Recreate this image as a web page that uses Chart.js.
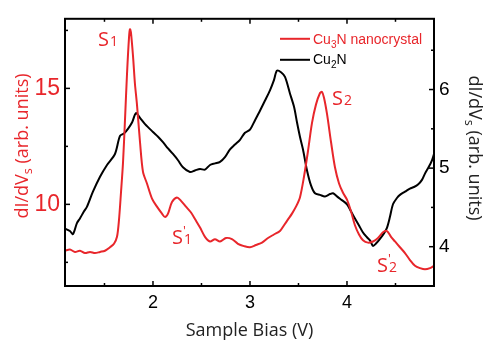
<!DOCTYPE html>
<html lang="en">
<head>
<meta charset="UTF-8">
<title>dI/dVs spectra</title>
<script src="https://cdn.jsdelivr.net/npm/chart.js"></script>
<style>
  body { margin: 0; background: #fff; }
  #wrap { width: 487px; height: 340px; position: relative; }
</style>
</head>
<body>
<div id="wrap"><canvas id="stsChart"></canvas></div>
<script>
// Cu3N nanocrystal (left axis)
const biasRed = [1.093, 1.144, 1.196, 1.247, 1.299, 1.351, 1.402, 1.454, 1.505, 1.557,
  1.598, 1.629, 1.649, 1.670, 1.691, 1.711, 1.732, 1.753, 1.763, 1.773,
  1.794, 1.814, 1.835, 1.866, 1.897, 1.938, 1.990, 2.041, 2.093, 2.124,
  2.155, 2.196, 2.247, 2.289, 2.340, 2.392, 2.443, 2.485, 2.536, 2.588,
  2.639, 2.691, 2.753, 2.814, 2.876, 2.938, 3.000, 3.062, 3.124, 3.186,
  3.247, 3.309, 3.351, 3.392, 3.433, 3.474, 3.515, 3.557, 3.598, 3.639,
  3.680, 3.722, 3.742, 3.763, 3.794, 3.835, 3.876, 3.918, 3.959, 4.000,
  4.041, 4.082, 4.124, 4.165, 4.216, 4.268, 4.320, 4.371, 4.412, 4.454,
  4.495, 4.546, 4.598, 4.649, 4.701, 4.753, 4.804, 4.856, 4.897];
const didvRed = [8.0, 8.05, 7.95, 8.0, 7.9, 7.95, 7.9, 7.95, 8.0, 8.15,
  8.3, 8.6, 9.3, 10.5, 11.8, 13.6, 15.6, 17.2, 17.55, 17.4,
  16.4, 15.2, 14.3, 12.7, 11.4, 10.9, 10.25, 9.9, 9.6, 9.45,
  9.6, 10.1, 10.3, 10.15, 9.9, 9.65, 9.3, 9.0, 8.6, 8.4,
  8.5, 8.4, 8.55, 8.5, 8.3, 8.2, 8.15, 8.25, 8.35, 8.55,
  8.7, 8.85, 9.1, 9.35, 9.6, 9.9, 10.3, 11.2, 12.3, 13.5,
  14.3, 14.8, 14.85, 14.6, 13.9, 12.7, 11.6, 10.9, 10.5, 10.2,
  9.7, 9.1, 8.7, 8.45, 8.35, 8.4, 8.55, 8.8, 8.85, 8.6,
  8.4, 8.15, 7.9, 7.6, 7.35, 7.25, 7.2, 7.25, 7.35];

// Cu2N (right axis)
const biasBlack = [1.093, 1.144, 1.175, 1.216, 1.247, 1.289, 1.320, 1.381, 1.454, 1.526,
  1.608, 1.660, 1.701, 1.742, 1.784, 1.825, 1.866, 1.918, 2.000, 2.052,
  2.103, 2.155, 2.206, 2.258, 2.309, 2.381, 2.433, 2.485, 2.536, 2.588,
  2.639, 2.691, 2.742, 2.794, 2.845, 2.897, 2.948, 3.000, 3.052, 3.103,
  3.155, 3.206, 3.247, 3.278, 3.320, 3.361, 3.412, 3.454, 3.485, 3.515,
  3.546, 3.588, 3.629, 3.670, 3.722, 3.773, 3.825, 3.856, 3.897, 3.928,
  4.000, 4.041, 4.082, 4.124, 4.165, 4.206, 4.237, 4.268, 4.299, 4.340,
  4.381, 4.412, 4.443, 4.474, 4.515, 4.546, 4.598, 4.649, 4.691, 4.732,
  4.773, 4.804, 4.845, 4.876, 4.897];
const didvBlack = [4.23, 4.2, 4.16, 4.3, 4.36, 4.45, 4.51, 4.7, 4.89, 5.04,
  5.18, 5.41, 5.44, 5.5, 5.58, 5.7, 5.64, 5.56, 5.46, 5.4,
  5.33, 5.25, 5.18, 5.1, 5.01, 4.95, 4.97, 4.99, 4.98, 5.04,
  5.06, 5.08, 5.14, 5.24, 5.3, 5.36, 5.45, 5.49, 5.61, 5.73,
  5.86, 5.99, 6.12, 6.24, 6.22, 6.16, 5.95, 5.78, 5.58, 5.4,
  5.24, 4.97, 4.78, 4.68, 4.66, 4.64, 4.67, 4.68, 4.64, 4.61,
  4.54, 4.45, 4.36, 4.27, 4.18, 4.12, 4.08, 4.01, 4.04, 4.1,
  4.17, 4.24, 4.38, 4.54, 4.62, 4.66, 4.7, 4.74, 4.76, 4.79,
  4.85, 4.93, 5.02, 5.1, 5.18];

// axes
const xTicks = [2, 3, 4];
const xMinor = [1.5, 2.5, 3.5, 4.5];
const leftTicks = [10, 15];
const leftMinor = [7.5, 12.5, 17.5];
const rightTicks = [4, 5, 6];
const rightMinor = [3.5, 4.5, 5.5, 6.5];

// peak names, anchored in (bias, left-axis) units
const peakNames = ['S', 'S', 'S', 'S'];
const peakSubs = ['1', '1', '2', '2'];
const peakPrimes = [false, true, false, true];
const peakBias = [1.433, 2.196, 3.845, 4.309];
const peakLevel = [16.82, 8.31, 14.28, 7.08];

const RED = '#e8262b';
const titleFont = '"Open Sans", sans-serif';
const numFont = '"Liberation Sans", Arial, sans-serif';

function drawTitle(ctx, main, sub, rest, size) {
  // draws main + subscript + rest starting at (0,0) on baseline, centred
  ctx.font = size + 'px ' + titleFont;
  const w1 = ctx.measureText(main).width;
  const w3 = ctx.measureText(rest).width;
  ctx.font = (size * 0.7) + 'px ' + titleFont;
  const w2 = ctx.measureText(sub).width;
  let x = -(w1 + w2 + w3) / 2;
  ctx.textAlign = 'left';
  ctx.textBaseline = 'alphabetic';
  ctx.font = size + 'px ' + titleFont;
  ctx.fillText(main, x, 0); x += w1;
  ctx.font = (size * 0.7) + 'px ' + titleFont;
  ctx.fillText(sub, x, size * 0.2); x += w2;
  ctx.font = size + 'px ' + titleFont;
  ctx.fillText(rest, x, 0);
}

function legendLabel(ctx, x, y, a, sub, b) {
  ctx.font = '14px ' + numFont;
  ctx.fillText(a, x, y); x += ctx.measureText(a).width;
  ctx.font = '10px ' + numFont;
  ctx.fillText(sub, x, y + 4); x += ctx.measureText(sub).width;
  ctx.font = '14px ' + numFont;
  ctx.fillText(b, x, y);
}

const overlay = {
  id: 'overlay',
  afterDraw(chart) {
    const { ctx, chartArea: a, scales } = chart;
    ctx.save();
    ctx.strokeStyle = '#000';
    ctx.lineWidth = 2;
    ctx.strokeRect(a.left, a.top, a.right - a.left, a.bottom - a.top);

    const tick = (x1, y1, x2, y2) => { ctx.beginPath(); ctx.moveTo(x1, y1); ctx.lineTo(x2, y2); ctx.stroke(); };
    ctx.lineWidth = 1.5;
    xTicks.forEach(v => { const p = scales.x.getPixelForValue(v); tick(p, a.bottom, p, a.bottom - 5); tick(p, a.top, p, a.top + 5); });
    xMinor.forEach(v => { const p = scales.x.getPixelForValue(v); tick(p, a.bottom, p, a.bottom - 3); tick(p, a.top, p, a.top + 3); });
    leftTicks.forEach(v => { const p = scales.y.getPixelForValue(v); tick(a.left, p, a.left + 5, p); });
    leftMinor.forEach(v => { const p = scales.y.getPixelForValue(v); tick(a.left, p, a.left + 3, p); });
    rightTicks.forEach(v => { const p = scales.y2.getPixelForValue(v); tick(a.right, p, a.right - 5, p); });
    rightMinor.forEach(v => { const p = scales.y2.getPixelForValue(v); tick(a.right, p, a.right - 3, p); });

    // axis titles
    ctx.fillStyle = '#222';
    ctx.font = '18px ' + titleFont;
    ctx.textAlign = 'center';
    ctx.textBaseline = 'alphabetic';
    ctx.fillText('Sample Bias (V)', (a.left + a.right) / 2, 336);

    ctx.save();
    ctx.translate(28, 146);
    ctx.rotate(-Math.PI / 2);
    ctx.fillStyle = RED;
    drawTitle(ctx, 'dI/dV', 's', ' (arb. units)', 18);
    ctx.restore();

    ctx.save();
    ctx.translate(469, 148);
    ctx.rotate(Math.PI / 2);
    ctx.fillStyle = '#222';
    drawTitle(ctx, 'dI/dV', 's', ' (arb. units)', 18);
    ctx.restore();

    // legend
    ctx.lineWidth = 2;
    ctx.strokeStyle = RED;
    tick(a.right - 154, a.top + 20, a.right - 124, a.top + 20);
    ctx.strokeStyle = '#000';
    tick(a.right - 154, a.top + 41, a.right - 124, a.top + 41);
    ctx.textAlign = 'left';
    ctx.textBaseline = 'alphabetic';
    ctx.fillStyle = RED;
    legendLabel(ctx, a.right - 121, a.top + 25, 'Cu', '3', 'N nanocrystal');
    ctx.fillStyle = '#000';
    legendLabel(ctx, a.right - 121, a.top + 45, 'Cu', '2', 'N');

    // peak labels
    ctx.fillStyle = RED;
    peakNames.forEach((n, i) => {
      let x = scales.x.getPixelForValue(peakBias[i]);
      const y = scales.y.getPixelForValue(peakLevel[i]);
      ctx.font = '20px ' + titleFont;
      ctx.fillText(n, x, y);
      x += ctx.measureText(n).width + 1;
      if (peakPrimes[i]) {
        ctx.font = '13px ' + titleFont;
        ctx.fillText("'", x - 1, y - 9);
      }
      ctx.font = '14px ' + titleFont;
      ctx.fillText(peakSubs[i], x, y);
    });
    ctx.restore();
  }
};

const fixWidth = w => scale => { scale.width = w; };

new Chart(document.getElementById('stsChart'), {
  type: 'line',
  data: {
    datasets: [
      {
        label: 'Cu3N nanocrystal',
        data: biasRed.map((b, i) => ({ x: b, y: didvRed[i] })),
        borderColor: RED,
        borderWidth: 2,
        pointRadius: 0,
        tension: 0.3,
        yAxisID: 'y'
      },
      {
        label: 'Cu2N',
        data: biasBlack.map((b, i) => ({ x: b, y: didvBlack[i] })),
        borderColor: '#000',
        borderWidth: 2,
        pointRadius: 0,
        tension: 0.3,
        yAxisID: 'y2'
      }
    ]
  },
  options: {
    responsive: true,
    maintainAspectRatio: false,
    animation: false,
    devicePixelRatio: 1,
    layout: { padding: { top: 14, left: 0, right: 0, bottom: 0 } },
    plugins: { legend: { display: false }, tooltip: { enabled: false } },
    scales: {
      x: {
        type: 'linear',
        min: 1.093,
        max: 4.897,
        grid: { display: false, drawTicks: false },
        border: { display: false },
        afterBuildTicks: s => { s.ticks = xTicks.map(v => ({ value: v })); },
        afterFit: s => { s.height = 54; },
        ticks: { color: '#000', padding: 6, font: { family: numFont, size: 18 } }
      },
      y: {
        position: 'left',
        min: 6.48,
        max: 18.0,
        grid: { display: false, drawTicks: false },
        border: { display: false },
        afterBuildTicks: s => { s.ticks = leftTicks.map(v => ({ value: v })); },
        afterFit: fixWidth(65),
        ticks: { color: RED, padding: 5, font: { family: numFont, size: 23 } }
      },
      y2: {
        position: 'right',
        min: 3.5,
        max: 6.9,
        grid: { display: false, drawTicks: false },
        border: { display: false },
        afterBuildTicks: s => { s.ticks = rightTicks.map(v => ({ value: v })); },
        afterFit: fixWidth(53),
        ticks: { color: '#000', padding: 5, font: { family: numFont, size: 19 } }
      }
    }
  },
  plugins: [overlay]
});
</script>
</body>
</html>
